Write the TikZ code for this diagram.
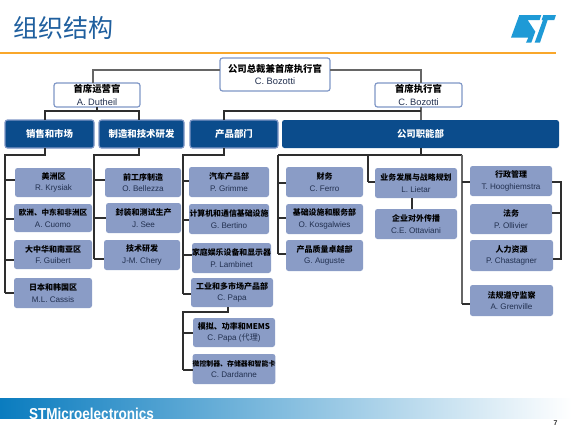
\documentclass[tikz,border=0pt]{standalone}
\usepackage{fontspec}
\setmainfont{Liberation Sans}
\newfontfamily\cjk{Noto Sans CJK SC}
\definecolor{stblue}{HTML}{0B4C8C}
\definecolor{stedge}{HTML}{7F97C6}
\definecolor{stlight}{HTML}{8A9CC6}
\definecolor{stline}{HTML}{2E2E2E}
\definecolor{stgrey}{HTML}{666666}
\definecolor{storange}{HTML}{F9A72B}
\definecolor{sttitle}{HTML}{1F5F9E}
\definecolor{stlogo}{HTML}{1E9AD6}
\definecolor{stname}{HTML}{22304F}
\definecolor{bandl}{HTML}{0A7CBF}
\definecolor{bandm}{HTML}{40A0D2}
\tikzset{
  base/.style={rectangle,rounded corners=2.5pt,inner sep=0pt,outer sep=0pt,align=center},
  wbox/.style={base,draw=stedge,line width=1.2pt,fill=white,text=black},
  dbox/.style={base,draw=stedge,line width=1.2pt,fill=stblue,text=white},
  fbox/.style={base,fill=stblue,text=white},
  lbox/.style={base,fill=stlight,text=black},
  conn/.style={draw=stline,line width=1.15pt},
  gconn/.style={draw=stgrey,line width=1.25pt},
}
\newcommand{\bx}[7][]{%
  \pgfmathsetmacro{\cxx}{(#3+#5)/2}\pgfmathsetmacro{\cyy}{(#4+#6)/2}%
  \pgfmathsetmacro{\wdd}{#5-#3}\pgfmathsetmacro{\htt}{#6-#4}%
  \node[#1,minimum width=\wdd pt,minimum height=\htt pt] (#2) at (\cxx,\cyy) {#7};}
\newcommand{\two}[3]{{\cjk\bfseries\fontsize{#1}{10}\selectfont #2}\\[-.5pt]{\color{stname}\fontsize{8.1}{9}\selectfont #3}}
\newcommand{\twob}[3]{{\cjk\bfseries\fontsize{#1}{10}\selectfont #2}\\[.3pt]{\color{stname}\fontsize{9.3}{10}\selectfont #3}}
\newcommand{\one}[1]{{\cjk\bfseries\fontsize{9.4}{10}\selectfont #1}}
\newcommand{\tick}[3]{\draw[conn] (#1,#2) -- (#3.west |- #1,#2);}
\begin{document}
\begin{tikzpicture}[x=1pt,y=-1pt]
\useasboundingbox (0,0) rectangle (572,429);
% title
\node[anchor=west,inner sep=0pt,text=sttitle] (title) at (13,27.5) {\cjk\fontsize{25}{25}\selectfont 组织结构};
\fill[storange] (0,52) rectangle (556,54);
% logo
\begin{scope}[shift={(286,0)},x=.3333pt,y=-.3333pt]
\fill[stlogo] (700,45)--(766,45)--(761,60)--(725,60)--(748,95)--(736,128)--(720,128)--(727,113)--(675,113)--cycle;
\fill[stlogo] (772,45)--(810,45)--(805,60)--(785,60)--(762,128)--(746,128)--(771,60)--(767,60)--cycle;
\end{scope}
% footer
\shade[left color=bandl,middle color=bandm,right color=white] (0,398) rectangle (572,418);
\begin{scope}
\clip (0,398) rectangle (572,418);
\node[anchor=base west,inner sep=0pt,text=white,xscale=.855,transform shape] (brand) at (29,419.5) {\bfseries\fontsize{15.8}{16}\selectfont STMicroelectronics};
\end{scope}
\node[inner sep=0pt,text=stline] (page) at (555.5,423.5) {\bfseries\fontsize{7}{8}\selectfont 7};

% top level
\bx[wbox]{ceo}{220}{58}{330}{91}{\twob{9.4}{公司总裁兼首席执行官}{C. Bozotti}}
\bx[wbox]{coo}{54}{83}{140}{107}{\twob{9.4}{首席运营官}{A. Dutheil}}
\bx[wbox]{cex}{375}{83}{462}{107}{\twob{9.4}{首席执行官}{C. Bozotti}}
% divisions
\bx[dbox]{sales}{5}{120}{94}{148}{\one{销售和市场}}
\bx[dbox]{manu}{99}{120}{184}{148}{\one{制造和技术研发}}
\bx[dbox]{prod}{190}{120}{278}{148}{\one{产品部门}}
\bx[fbox]{corp}{282}{120}{559}{148}{\one{公司职能部}}
% column 1
\bx[lbox]{a1}{15}{168}{92}{197}{\two{8}{美洲区}{R. Krysiak}}
\bx[lbox]{a2}{14}{204}{92}{232}{\two{7.6}{欧洲、中东和非洲区}{A. Cuomo}}
\bx[lbox]{a3}{14}{240}{92}{269}{\two{8}{大中华和南亚区}{F. Guibert}}
\bx[lbox]{a4}{14}{278}{92}{308}{\two{8}{日本和韩国区}{M.L. Cassis}}
% column 2
\bx[lbox]{b1}{105}{168}{181}{197}{\two{8}{前工序制造}{O. Bellezza}}
\bx[lbox]{b2}{106}{203}{181}{233}{\two{8}{封装和测试生产}{J. See}}
\bx[lbox]{b3}{104}{240}{180}{270}{\two{8}{技术研发}{J-M. Chery}}
% column 3
\bx[lbox]{c1}{189}{167}{269}{197}{\two{8}{汽车产品部}{P. Grimme}}
\bx[lbox]{c2}{189}{204}{269}{234}{\two{7.9}{计算机和通信基础设施}{G. Bertino}}
\bx[lbox]{c3}{192}{243}{271}{273}{\two{7.9}{家庭娱乐设备和显示器}{P. Lambinet}}
\bx[lbox]{c4}{191}{278}{273}{307}{\two{8}{工业和多市场产品部}{C. Papa}}
\bx[lbox]{c5}{193}{318}{275}{347}{\two{8}{模拟、功率和MEMS}{C. Papa ({\cjk 代理})}}
\bx[lbox]{c6}{193}{354}{275}{384}{\two{6.9}{微控制器、存储器和智能卡}{C. Dardanne}}
% column 4
\bx[lbox]{d1}{286}{167}{363}{197}{\two{8}{财务}{C. Ferro}}
\bx[lbox]{d2}{286}{204}{363}{234}{\two{7.9}{基础设施和服务部}{O. Kosgalwies}}
\bx[lbox]{d3}{286}{240}{363}{271}{\two{8}{产品质量卓越部}{G. Auguste}}
% column 5
\bx[lbox]{e1}{375}{168}{457}{198}{\two{7.9}{业务发展与战略规划}{L. Lietar}}
\bx[lbox]{e2}{375}{209}{457}{239}{\two{8}{企业对外传播}{C.E. Ottaviani}}
% column 6
\bx[lbox]{f1}{470}{166}{552}{196}{\two{8}{行政管理}{T. Hooghiemstra}}
\bx[lbox]{f2}{470}{204}{552}{234}{\two{8}{法务}{P. Ollivier}}
\bx[lbox]{f3}{470}{240}{553}{271}{\two{8}{人力资源}{P. Chastagner}}
\bx[lbox]{f4}{470}{285}{553}{316}{\two{8}{法规遵守监察}{A. Grenville}}

% connectors: top
\draw[gconn] (ceo.west |- 0,70) -| (coo.north -| 93,0);
\draw[gconn] (ceo.east |- 0,70) -| (cex.north -| 421,0);
\draw[gconn] (cex.south -| 421,0) -- (corp.north -| 421,0);
\draw[conn] (coo.south -| 97,0) -- (97,111);
\draw[conn] (sales.north -| 45,0) -- (45,111) -- (139,111) -- (manu.north -| 139,0);
\draw[conn] (prod.north -| 224,0) -- (224,111) -- (421,111);
% connectors: below the divisions
\draw[conn] (sales.south -| 45,0) -- (45,155) -- (5,155) -- (5,293);
\draw[conn] (manu.south -| 139,0) -- (139,155) -- (94,155) -- (94,259);
\draw[conn] (prod.south -| 224,0) -- (224,155) -- (183,155) -- (183,294);
\draw[conn] (corp.south -| 421,0) -- (421,155);
\draw[conn] (278,155) -- (462,155);
\draw[conn] (278,155) -- (278,254);
\draw[conn] (368,155) -- (368,182);
\draw[gconn] (462,155) -- (462,304);
% ticks
\tick{5}{180}{a1}\tick{5}{219}{a2}\tick{5}{260}{a3}\tick{5}{293}{a4}
\tick{94}{180}{b1}\tick{94}{218}{b2}\tick{94}{259}{b3}
\tick{183}{181}{c1}\tick{183}{220}{c2}\tick{183}{255}{c3}\tick{183}{294}{c4}
\tick{278}{183}{d1}\tick{278}{218}{d2}\tick{278}{254}{d3}
\tick{368}{182}{e1}
\tick{462}{182}{f1}\tick{462}{304}{f4}
\draw[conn] (e1.south -| 412,0) -- (e2.north -| 412,0);
% sub-tree below C. Papa
\draw[conn] (c4.south -| 228,0) -- (228,312) -- (183,312) -- (183,370);
\tick{183}{333}{c5}\tick{183}{370}{c6}
% right bracket
\draw[conn] (f1.east |- 0,182) -- (561,182) -- (561,259) -- (f3.east |- 0,259);
\draw[conn] (561,213) -- (f2.east |- 0,213);
\end{tikzpicture}
\end{document}
